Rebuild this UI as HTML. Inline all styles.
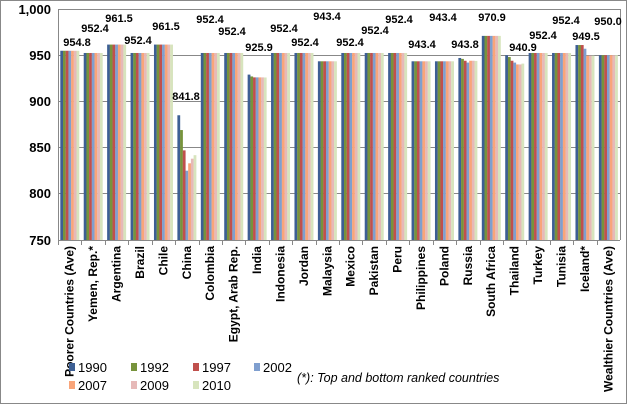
<!DOCTYPE html>
<html><head><meta charset="utf-8"><style>
body{margin:0;background:#fff}
svg{display:block;font-family:"Liberation Sans",sans-serif}
</style></head><body>
<svg id="s" width="627" height="404" viewBox="0 0 627 404" xmlns="http://www.w3.org/2000/svg">
<rect x="0.5" y="0.5" width="626" height="403" fill="#fff" stroke="#888"/>
<g stroke="#888" stroke-width="1">
<line x1="58" y1="9.5" x2="620" y2="9.5"/>
<line x1="58" y1="55.5" x2="620" y2="55.5"/>
<line x1="58" y1="101.5" x2="620" y2="101.5"/>
<line x1="58" y1="147.5" x2="620" y2="147.5"/>
<line x1="58" y1="193.5" x2="620" y2="193.5"/>
<line x1="58" y1="240.5" x2="620" y2="240.5"/>
<line x1="58.5" y1="9" x2="58.5" y2="240"/>
<line x1="620.5" y1="9" x2="620.5" y2="240"/>
</g>
<g id="bars"></g>
<g id="ticks" stroke="#888"></g>
<g font-size="13" font-weight="bold" text-anchor="end" fill="#000">
<text x="51" y="14">1,000</text><text x="51" y="60">950</text><text x="51" y="106">900</text>
<text x="51" y="152">850</text><text x="51" y="198">800</text><text x="51" y="245">750</text>
</g>
<g font-size="11" font-weight="bold" text-anchor="middle" fill="#000">
<text x="77" y="46">954.8</text><text x="95" y="32">952.4</text><text x="119" y="22">961.5</text>
<text x="138" y="44">952.4</text><text x="166" y="30">961.5</text><text x="186" y="100">841.8</text>
<text x="210" y="23">952.4</text><text x="232" y="35">952.4</text><text x="259" y="51">925.9</text>
<text x="284" y="32">952.4</text><text x="305" y="46">952.4</text><text x="327" y="20">943.4</text>
<text x="350" y="46">952.4</text><text x="375" y="34">952.4</text><text x="399" y="23">952.4</text>
<text x="422" y="48">943.4</text><text x="443" y="21">943.4</text><text x="465" y="48">943.8</text>
<text x="492" y="21">970.9</text><text x="523" y="51">940.9</text><text x="543" y="39">952.4</text>
<text x="566" y="24">952.4</text><text x="586" y="40">949.5</text><text x="608" y="25">950.0</text>
</g>
<g id="xl" font-size="12" font-weight="bold" text-anchor="end" fill="#000"></g>
<g font-size="13" fill="#000">
<rect x="69" y="363" width="6" height="8" fill="#3D5F94"/><text x="78" y="372">1990</text>
<rect x="131" y="363" width="6" height="8" fill="#77933C"/><text x="140" y="372">1992</text>
<rect x="193" y="363" width="6" height="8" fill="#C0504D"/><text x="202" y="372">1997</text>
<rect x="254" y="363" width="6" height="8" fill="#7F9FCF"/><text x="263" y="372">2002</text>
<rect x="69" y="381" width="6" height="8" fill="#F9A57A"/><text x="78" y="390">2007</text>
<rect x="131" y="381" width="6" height="8" fill="#E6B9B8"/><text x="140" y="390">2009</text>
<rect x="193" y="381" width="6" height="8" fill="#D7E4BD"/><text x="202" y="390">2010</text>
<text x="297" y="382" font-style="italic" font-size="12.5">(*): Top and bottom ranked countries</text>
</g>
</svg>
<script>
var cats=["Poorer Countries (Ave)","Yemen, Rep.*","Argentina","Brazil","Chile","China","Colombia","Egypt, Arab Rep.","India","Indonesia","Jordan","Malaysia","Mexico","Pakistan","Peru","Philippines","Poland","Russia","South Africa","Thailand","Turkey","Tunisia","Iceland*","Wealthier Countries (Ave)"];
var one=function(v){return [v,v,v,v,v,v,v]};
var data=[one(954.8),one(952.4),one(961.5),one(952.4),one(961.5),[885,869,847,825,833,838,841.8],one(952.4),one(952.4),[929,927,926,926,926,926,925.9],one(952.4),one(952.4),one(943.4),one(952.4),one(952.4),one(952.4),one(943.4),one(943.4),[947,946,944,942,944,944,943.8],one(970.9),[950,948,944,942,940,940,940.9],one(952.4),one(952.4),[961,961,961,957,949.5,949.5,949.5],one(950)];
var cols=["#3D5F94","#77933C","#C0504D","#7F9FCF","#F9A57A","#E6B9B8","#D7E4BD"];
var ns="http://www.w3.org/2000/svg",W=562/24,b=document.getElementById("bars"),t=document.getElementById("ticks"),xl=document.getElementById("xl");
function Y(v){return 240-(v-750)*0.924}
for(var i=0;i<24;i++){var x0=58+W*i;
for(var j=0;j<7;j++){var r=document.createElementNS(ns,"rect"),y=Y(data[i][j]);
r.setAttribute("x",x0+2.3+j*2.7);r.setAttribute("width",2.8);r.setAttribute("y",y);r.setAttribute("height",240-y);r.setAttribute("fill",cols[j]);b.appendChild(r);}
var l=document.createElementNS(ns,"line");l.setAttribute("x1",Math.round(x0)+.5);l.setAttribute("x2",Math.round(x0)+.5);l.setAttribute("y1",240);l.setAttribute("y2",245);t.appendChild(l);
var tx=document.createElementNS(ns,"text"),cx=x0+W/2+4;tx.setAttribute("transform","translate("+cx+",246) rotate(-90)");tx.textContent=cats[i];xl.appendChild(tx);}
</script>
</body></html>
